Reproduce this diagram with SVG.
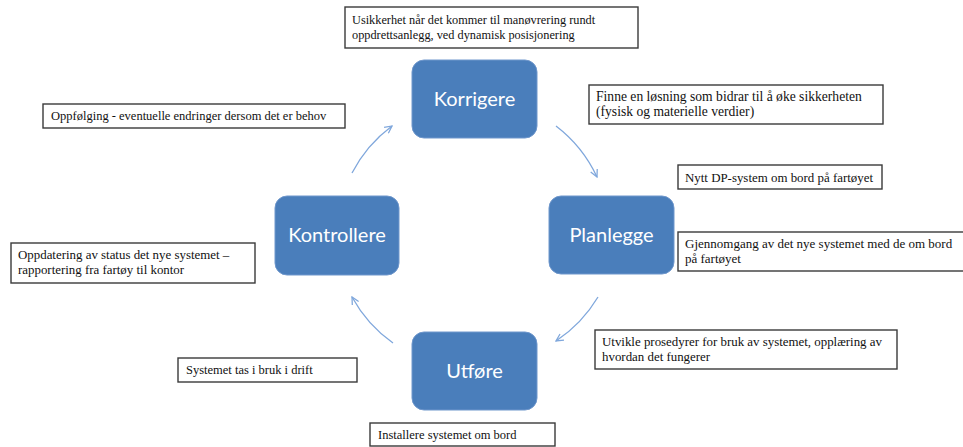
<svg xmlns="http://www.w3.org/2000/svg" width="963" height="447" viewBox="0 0 963 447">
<defs>
<marker id="arr" viewBox="0 0 10 10" refX="9" refY="5" markerWidth="9" markerHeight="9" markerUnits="userSpaceOnUse" orient="auto">
<path d="M1,1 L9,5 L1,9" fill="none" stroke="#7fa7dc" stroke-width="1.4"/>
</marker>
<style>
.step{fill:#4a7ebb;stroke:#6f97cc;stroke-width:1}
.steptxt{font-family:Lato,"Open Sans",sans-serif;font-size:20px;fill:#ffffff;text-anchor:middle}
.note{fill:#ffffff;stroke:#3a3a3a;stroke-width:1.4}
.notetxt{font-family:"Liberation Serif",serif;font-size:12.5px;fill:#111111}
.conn{fill:none;stroke:#7fa7dc;stroke-width:1.3;marker-end:url(#arr)}
</style>
</defs>
<rect width="963" height="447" fill="#ffffff"/>
<g id="connectors">
<path class="conn" d="M 556 126 A 137 137 0 0 1 597 177"/>
<path class="conn" d="M 598 297 A 137 137 0 0 1 556 341"/>
<path class="conn" d="M 393 343 A 137 137 0 0 1 352 297"/>
<path class="conn" d="M 352 173 A 137 137 0 0 1 392 126"/>
</g>
<g id="korrigere">
<rect class="step" x="412" y="60" width="125" height="78" rx="12"/>
<text class="steptxt" x="474.5" y="106">Korrigere</text>
</g>
<g id="planlegge">
<rect class="step" x="549" y="196" width="125" height="78" rx="12"/>
<text class="steptxt" x="611.5" y="242">Planlegge</text>
</g>
<g id="utfore">
<rect class="step" x="412" y="332" width="125" height="78" rx="12"/>
<text class="steptxt" x="474.5" y="378">Utføre</text>
</g>
<g id="kontrollere">
<rect class="step" x="275" y="196" width="124" height="79" rx="12"/>
<text class="steptxt" x="337" y="242">Kontrollere</text>
</g>
<g id="note-usikkerhet">
<rect class="note" x="345" y="7" width="293" height="41"/>
<text class="notetxt" x="352" y="24" style="font-size:12.3px">Usikkerhet når det kommer til manøvrering rundt</text>
<text class="notetxt" x="352" y="39" style="font-size:12.3px">oppdrettsanlegg, ved dynamisk posisjonering</text>
</g>
<g id="note-finne">
<rect class="note" x="589" y="85" width="294" height="39"/>
<text class="notetxt" x="596" y="101" style="font-size:13.6px">Finne en løsning som bidrar til å øke sikkerheten</text>
<text class="notetxt" x="596" y="116" style="font-size:13.6px">(fysisk og materielle verdier)</text>
</g>
<g id="note-nytt">
<rect class="note" x="678" y="165" width="204" height="24"/>
<text class="notetxt" x="685" y="182" style="font-size:12.9px">Nytt DP-system om bord på fartøyet</text>
</g>
<g id="note-gjennomgang">
<rect class="note" x="678" y="232" width="290" height="39"/>
<text class="notetxt" x="685" y="248" style="font-size:13px">Gjennomgang av det nye systemet med de om bord</text>
<text class="notetxt" x="685" y="263" style="font-size:13px">på fartøyet</text>
</g>
<g id="note-utvikle">
<rect class="note" x="595" y="330" width="302" height="39"/>
<text class="notetxt" x="602" y="346" style="font-size:12.9px">Utvikle prosedyrer for bruk av systemet, opplæring av</text>
<text class="notetxt" x="602" y="361" style="font-size:12.9px">hvordan det fungerer</text>
</g>
<g id="note-installere">
<rect class="note" x="370" y="423" width="185" height="23"/>
<text class="notetxt" x="378" y="439">Installere systemet om bord</text>
</g>
<g id="note-systemet">
<rect class="note" x="178" y="358" width="179" height="24"/>
<text class="notetxt" x="186" y="374">Systemet tas i bruk i drift</text>
</g>
<g id="note-oppdatering">
<rect class="note" x="11" y="243" width="244" height="40"/>
<text class="notetxt" x="18" y="259" style="font-size:12.9px">Oppdatering av status det nye systemet –</text>
<text class="notetxt" x="18" y="274" style="font-size:12.9px">rapportering fra fartøy til kontor</text>
</g>
<g id="note-oppfolging">
<rect class="note" x="43" y="104" width="302" height="24"/>
<text class="notetxt" x="51" y="120">Oppfølging - eventuelle endringer dersom det er behov</text>
</g>
</svg>
